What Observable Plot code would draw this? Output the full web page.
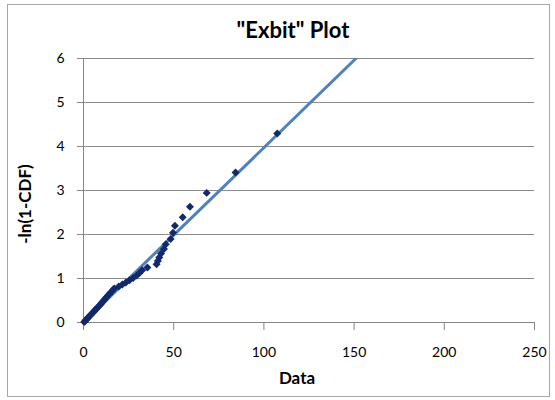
<!DOCTYPE html>
<html>
<head>
<meta charset="utf-8">
<script src="https://cdn.jsdelivr.net/npm/d3@7"></script>
<script src="https://cdn.jsdelivr.net/npm/@observablehq/plot@0.6"></script>
<style>
  body { margin: 0; background: #fff; }
  #wrap { position: relative; width: 555px; height: 400px; }
</style>
</head>
<body>
<div id="wrap"></div>
<script>
// Observed data (x = data value, y = -ln(1-CDF))
const dataX = [0.4, 0.9, 1.3, 1.8, 2.2, 2.7, 3.3, 3.8, 4.3, 4.8,
               5.4, 6.0, 6.5, 7.1, 7.7, 8.4, 9.0, 9.6, 10.2, 10.9,
               11.6, 12.2, 13.0, 13.7, 14.5, 15.3, 16.2, 17.0, 19.5, 21.5,
               23.5, 25.5, 27.5, 29.5, 31.0, 32.5, 35.4, 40.5, 41.2, 42.0,
               43.0, 44.6, 45.6, 48.3, 49.6, 50.7, 55.0, 59.0, 68.3, 84.3, 107.4];
const dataY = [0.014, 0.034, 0.054, 0.075, 0.096, 0.118, 0.140, 0.162, 0.185, 0.209,
               0.233, 0.258, 0.284, 0.310, 0.337, 0.365, 0.393, 0.422, 0.452, 0.483,
               0.515, 0.549, 0.583, 0.618, 0.655, 0.693, 0.733, 0.774, 0.817, 0.862,
               0.910, 0.959, 1.011, 1.066, 1.124, 1.186, 1.252, 1.322, 1.398, 1.480,
               1.569, 1.668, 1.776, 1.898, 2.038, 2.199, 2.392, 2.631, 2.946, 3.409, 4.296];
// Linear trendline endpoints
const trendX = [0, 151];
const trendY = [0, 6];
// Axis ticks
const xTicks = [0, 50, 100, 150, 200, 250];
const yTicks = [0, 1, 2, 3, 4, 5, 6];

const title = "\"Exbit\" Plot";
const xLabel = "Data";
const yLabel = "-ln(1-CDF)";

const points = dataX.map((x, i) => ({x, y: dataY[i]}));
const trend = trendX.map((x, i) => ({x, y: trendY[i]}));

const axisColor = "#868686";
const gridColor = "#8c8c8c";

const chart = Plot.plot({
  width: 555,
  height: 400,
  marginLeft: 83,
  marginRight: 21,
  marginTop: 58,
  marginBottom: 78,
  style: { fontFamily: "Lato, sans-serif", fontSize: "14px", background: "transparent", color: "#000" },
  x: { domain: [0, 250], label: null },
  y: { domain: [0, 6], label: null },
  marks: [
    Plot.gridY(yTicks, { stroke: gridColor, strokeOpacity: 1, strokeWidth: 1 }),
    Plot.axisY(yTicks, { tickSize: 6, tickPadding: 13, stroke: axisColor, strokeOpacity: 1, fill: "#000", fontSize: 14, label: null }),
    Plot.axisX(xTicks, { tickSize: 8, tickPadding: 17, stroke: axisColor, strokeOpacity: 1, fill: "#000", fontSize: 14, label: null }),
    Plot.ruleX([0], { stroke: axisColor }),
    Plot.ruleY([0], { stroke: axisColor }),
    Plot.line(trend, { x: "x", y: "y", stroke: "#4f81bd", strokeWidth: 3, clip: true }),
    Plot.dot(points, { x: "x", y: "y", symbol: "diamond2", r: 3.6, fill: "#12296b", stroke: "none" })
  ]
});

const wrap = document.getElementById("wrap");
wrap.appendChild(chart);

const svg = d3.select(chart);
// chart-area border
svg.insert("rect", ":first-child")
  .attr("x", 7.5).attr("y", 4.5).attr("width", 542).attr("height", 392)
  .attr("fill", "#fff").attr("stroke", "#a6a6a6").attr("stroke-width", 1);

svg.append("text")
  .attr("x", 293).attr("y", 38)
  .attr("text-anchor", "middle")
  .attr("font-family", "Lato, sans-serif")
  .attr("font-weight", "bold")
  .attr("font-size", 22)
  .attr("fill", "#000")
  .text(title);

svg.append("text")
  .attr("x", 297).attr("y", 384)
  .attr("text-anchor", "middle")
  .attr("font-family", "Lato, sans-serif")
  .attr("font-weight", "bold")
  .attr("font-size", 17)
  .attr("fill", "#000")
  .text(xLabel);

svg.append("text")
  .attr("transform", "translate(31,204) rotate(-90)")
  .attr("text-anchor", "middle")
  .attr("font-family", "Lato, sans-serif")
  .attr("font-weight", "bold")
  .attr("font-size", 17)
  .attr("fill", "#000")
  .text(yLabel);
</script>
</body>
</html>
